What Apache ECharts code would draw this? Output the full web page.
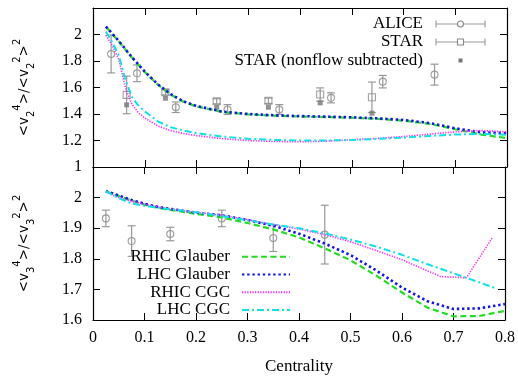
<!DOCTYPE html>
<html><head><meta charset="utf-8">
<script src="https://cdn.jsdelivr.net/npm/echarts@6/dist/echarts.min.js"></script>
<style>html,body{margin:0;padding:0;background:#fff}#c{width:518px;height:376px}</style>
</head><body><div id="c"></div>
<script>
// ---------------- data ----------------
// top panel: <v2^4>/<v2^2>^2 model curves
const v2ModelCent   = [0.025,0.0375,0.05,0.0625,0.075,0.0875,0.1,0.125,0.15,0.175,0.2,0.25,0.3,0.35,0.4,0.45,0.5,0.55,0.6,0.65,0.7,0.75,0.8];
const v2RhicGlauber = [2.058,2.002,1.947,1.887,1.827,1.772,1.717,1.622,1.547,1.492,1.457,1.415,1.397,1.387,1.381,1.377,1.372,1.363,1.350,1.326,1.285,1.245,1.218];
const v2LhcGlauber  = [2.060,2.005,1.950,1.890,1.830,1.775,1.720,1.625,1.550,1.495,1.460,1.418,1.400,1.390,1.384,1.380,1.375,1.367,1.355,1.332,1.292,1.262,1.255];
const v2RhicCgc     = [1.995,1.915,1.810,1.600,1.475,1.410,1.370,1.310,1.275,1.253,1.237,1.214,1.200,1.193,1.190,1.195,1.206,1.216,1.230,1.248,1.265,1.275,1.265];
const v2LhcCgc      = [2.020,1.940,1.840,1.660,1.530,1.465,1.420,1.345,1.300,1.275,1.255,1.230,1.213,1.204,1.200,1.200,1.203,1.212,1.222,1.234,1.245,1.250,1.243];

// top panel data points
const aliceV2Cent = [0.035,0.085,0.16,0.26,0.36,0.46,0.56,0.66];
const aliceV2Val  = [1.853,1.707,1.451,1.434,1.434,1.522,1.644,1.697];
const aliceV2Err  = [0.143,0.063,0.040,0.037,0.037,0.038,0.047,0.079];
const starV2Cent  = [0.065,0.14,0.239,0.339,0.439,0.539];
const starV2Val   = [1.544,1.564,1.496,1.500,1.547,1.526];
const starV2Err   = [0.142,0.020,0.019,0.020,0.050,0.115];
const starNonflowVal = [1.469,1.519,1.451,1.451,1.484,1.406];

// bottom panel: <v3^4>/<v3^2>^2 model curves
const v3GlauberCent = [0.025,0.05,0.075,0.1,0.125,0.15,0.2,0.25,0.3,0.35,0.4,0.45,0.5,0.55,0.6,0.65,0.7,0.75,0.8];
const v3RhicGlauber = [2.020,2.005,1.990,1.977,1.967,1.960,1.947,1.935,1.917,1.896,1.870,1.834,1.795,1.745,1.690,1.640,1.612,1.613,1.630];
const v3LhcGlauber  = [2.021,2.007,1.992,1.980,1.970,1.963,1.951,1.942,1.927,1.908,1.882,1.850,1.812,1.762,1.706,1.661,1.636,1.638,1.652];
const v3RhicCgcCent = [0.025,0.05,0.075,0.1,0.125,0.15,0.2,0.25,0.3,0.35,0.4,0.45,0.5,0.55,0.6,0.65,0.675,0.725,0.775];
const v3RhicCgc     = [2.018,2.000,1.988,1.978,1.970,1.963,1.952,1.942,1.928,1.912,1.897,1.879,1.856,1.827,1.797,1.760,1.742,1.738,1.868];
const v3LhcCgcCent  = [0.025,0.05,0.075,0.1,0.125,0.15,0.2,0.25,0.3,0.35,0.4,0.45,0.5,0.55,0.6,0.65,0.7,0.75,0.785];
const v3LhcCgc      = [2.020,1.998,1.981,1.973,1.967,1.962,1.952,1.940,1.926,1.912,1.900,1.883,1.863,1.840,1.813,1.782,1.753,1.723,1.702];

// bottom panel data points
const aliceV3Cent = [0.025,0.075,0.15,0.25,0.35,0.45];
const aliceV3Val  = [1.932,1.858,1.881,1.932,1.868,1.879];
const aliceV3Err  = [0.027,0.050,0.022,0.027,0.044,0.096];

const xTickStep = 0.1;
const seriesNames = ['RHIC Glauber','LHC Glauber','RHIC CGC','LHC CGC'];
const dataLegendNames = ['ALICE','STAR','STAR (nonflow subtracted)'];

// ---------------- styles ----------------
const SERIF = '"Liberation Serif","Times New Roman",serif';
const C_GREEN = '#22dd22', C_BLUE = '#1414e6', C_MAG = '#ff33ff', C_CYAN = '#10e0e8';
const GRAY = '#888', EBAR = '#999';
const lineStyles = {
  'RHIC Glauber': {color: C_GREEN, width: 2.2, type: [6, 3.5]},
  'LHC Glauber':  {color: C_BLUE,  width: 2.6, type: [2.4, 2.8]},
  'RHIC CGC':     {color: C_MAG,   width: 1.6, type: [1.3, 1.3]},
  'LHC CGC':      {color: C_CYAN,  width: 2.0, type: [7, 3, 2, 3]}
};

function pairs(xs, ys) { return xs.map((x, i) => [x, ys[i]]); }
function errRows(xs, ys, es) { return xs.map((x, i) => [x, ys[i], ys[i] - es[i], ys[i] + es[i]]); }

function lineSeries(name, xs, ys, axis) {
  const ls = lineStyles[name];
  return {
    type: 'line', name, xAxisIndex: axis, yAxisIndex: axis,
    data: pairs(xs, ys), showSymbol: false, symbol: 'none',
    lineStyle: {color: ls.color, width: ls.width, type: ls.type},
    itemStyle: {color: ls.color}, z: 5, animation: false, silent: true
  };
}
function errSeries(xs, ys, es, axis) {
  return {
    type: 'custom', xAxisIndex: axis, yAxisIndex: axis, silent: true, z: 3,
    data: errRows(xs, ys, es), encode: {x: 0, y: [1, 2, 3]},
    renderItem(params, api) {
      const x = api.value(0);
      const lo = api.coord([x, api.value(2)]);
      const hi = api.coord([x, api.value(3)]);
      const hw = 4;
      const st = {stroke: EBAR, lineWidth: 1.2};
      return {type: 'group', children: [
        {type: 'line', shape: {x1: lo[0], y1: lo[1], x2: hi[0], y2: hi[1]}, style: st},
        {type: 'line', shape: {x1: lo[0] - hw, y1: lo[1], x2: lo[0] + hw, y2: lo[1]}, style: st},
        {type: 'line', shape: {x1: hi[0] - hw, y1: hi[1], x2: hi[0] + hw, y2: hi[1]}, style: st}
      ]};
    }
  };
}
function markSeries(xs, ys, axis, symbol, size, filled) {
  return {
    type: 'scatter', xAxisIndex: axis, yAxisIndex: axis, data: pairs(xs, ys),
    symbol, symbolSize: size, silent: true, z: 4,
    itemStyle: filled ? {color: '#777'} : {color: 'rgba(0,0,0,0)', borderColor: GRAY, borderWidth: 1.1}
  };
}

function baseAxis(extra) {
  return Object.assign({
    type: 'value',
    axisLine: {show: true, onZero: false, lineStyle: {color: '#000', width: 1.2}},
    axisTick: {show: true, inside: true, length: 7, lineStyle: {color: '#000', width: 1}},
    splitLine: {show: false},
    axisLabel: {show: false}
  }, extra);
}
function fmt(hide) {
  return v => (Math.abs(v - hide) < 1e-6 ? '' : String(Math.round(v * 10) / 10));
}
const labelStyle = {show: true, fontFamily: SERIF, fontSize: 16, color: '#000'};
const yNameStyle = () => ({
  fontFamily: '"DejaVu Sans",sans-serif', fontSize: 13.5, color: '#000', lineHeight: 24,
  rich: {
    sub: {fontFamily: '"DejaVu Sans",sans-serif', fontSize: 10, lineHeight: 13, verticalAlign: 'bottom', color: '#000'},
    sup: {fontFamily: '"DejaVu Sans",sans-serif', fontSize: 10, lineHeight: 9, verticalAlign: 'top', color: '#000'}
  }
});

const option = {
  backgroundColor: '#fff',
  animation: false,
  grid: [
    {left: 93, right: 11, top: 8, height: 159},
    {left: 93, right: 11, top: 167, height: 159}
  ],
  xAxis: [
    baseAxis({gridIndex: 0, position: 'bottom', min: 0, max: 0.8, interval: xTickStep}),
    baseAxis({gridIndex: 0, position: 'top', min: 0, max: 0.8, interval: xTickStep}),
    baseAxis({gridIndex: 1, position: 'bottom', min: 0, max: 0.8, interval: xTickStep,
      axisLabel: Object.assign({margin: 10, formatter: v => String(Math.round(v * 10) / 10)}, labelStyle),
      name: 'Centrality', nameLocation: 'middle', nameGap: 38,
      nameTextStyle: {fontFamily: SERIF, fontSize: 17, color: '#000'}}),
    baseAxis({gridIndex: 1, position: 'top', min: 0, max: 0.8, interval: xTickStep})
  ],
  yAxis: [
    baseAxis({gridIndex: 0, position: 'left', min: 1, max: 2.2, interval: 0.2,
      axisLabel: Object.assign({margin: 11, formatter: fmt(2.2)}, labelStyle),
      name: '<v{sub|2}{sup|4}>/<v{sub|2}{sup|2}>{sup|2}', nameLocation: 'middle', nameGap: 57,
      nameTextStyle: yNameStyle()}),
    baseAxis({gridIndex: 0, position: 'right', min: 1, max: 2.2, interval: 0.2}),
    baseAxis({gridIndex: 1, position: 'left', min: 1.6, max: 2.1, interval: 0.1,
      axisLabel: Object.assign({margin: 11, formatter: fmt(2.1)}, labelStyle),
      name: '<v{sub|3}{sup|4}>/<v{sub|3}{sup|2}>{sup|2}', nameLocation: 'middle', nameGap: 57,
      nameTextStyle: yNameStyle()}),
    baseAxis({gridIndex: 1, position: 'right', min: 1.6, max: 2.1, interval: 0.1})
  ],
  legend: {
    data: seriesNames, orient: 'vertical', align: 'right',
    left: 120, top: 248, padding: 0, itemGap: 0, itemWidth: 48, itemHeight: 10,
    selectedMode: false,
    itemStyle: {color: 'rgba(0,0,0,0)', borderWidth: 0, borderColor: 'rgba(0,0,0,0)'},
    textStyle: {fontFamily: SERIF, fontSize: 17, color: '#000', width: 110, lineHeight: 17.7, padding: [0, 7, 0, 0]}
  },
  graphic: [
    {type: 'text', x: 423, y: 24, style: {text: dataLegendNames[0], align: 'right', verticalAlign: 'middle', font: '17px ' + SERIF, fill: '#000'}},
    {type: 'text', x: 423, y: 42, style: {text: dataLegendNames[1], align: 'right', verticalAlign: 'middle', font: '17px ' + SERIF, fill: '#000'}},
    {type: 'text', x: 423, y: 60.5, style: {text: dataLegendNames[2], align: 'right', verticalAlign: 'middle', font: '17px ' + SERIF, fill: '#000'}},
    // ALICE key
    {type: 'line', shape: {x1: 436, y1: 24, x2: 485, y2: 24}, style: {stroke: EBAR, lineWidth: 1.1}},
    {type: 'line', shape: {x1: 436, y1: 20.5, x2: 436, y2: 27.5}, style: {stroke: EBAR, lineWidth: 1.1}},
    {type: 'line', shape: {x1: 485, y1: 20.5, x2: 485, y2: 27.5}, style: {stroke: EBAR, lineWidth: 1.1}},
    {type: 'circle', shape: {cx: 460.5, cy: 24, r: 3}, style: {fill: '#fff', stroke: GRAY, lineWidth: 1.1}},
    // STAR key
    {type: 'line', shape: {x1: 436, y1: 42, x2: 485, y2: 42}, style: {stroke: EBAR, lineWidth: 1.1}},
    {type: 'line', shape: {x1: 436, y1: 38.5, x2: 436, y2: 45.5}, style: {stroke: EBAR, lineWidth: 1.1}},
    {type: 'line', shape: {x1: 485, y1: 38.5, x2: 485, y2: 45.5}, style: {stroke: EBAR, lineWidth: 1.1}},
    {type: 'rect', shape: {x: 457.5, y: 39, width: 6, height: 6}, style: {fill: '#fff', stroke: GRAY, lineWidth: 1.1}},
    // STAR nonflow key
    {type: 'rect', shape: {x: 458.5, y: 58.5, width: 4, height: 4}, style: {fill: '#777'}}
  ],
  series: [
    // bottom panel (legend source)
    lineSeries('RHIC Glauber', v3GlauberCent, v3RhicGlauber, 2),
    lineSeries('LHC Glauber', v3GlauberCent, v3LhcGlauber, 2),
    lineSeries('RHIC CGC', v3RhicCgcCent, v3RhicCgc, 2),
    lineSeries('LHC CGC', v3LhcCgcCent, v3LhcCgc, 2),
    errSeries(aliceV3Cent, aliceV3Val, aliceV3Err, 2),
    markSeries(aliceV3Cent, aliceV3Val, 2, 'circle', 7, false),
    // top panel
    lineSeries('RHIC Glauber', v2ModelCent, v2RhicGlauber, 0),
    lineSeries('LHC Glauber', v2ModelCent, v2LhcGlauber, 0),
    lineSeries('RHIC CGC', v2ModelCent, v2RhicCgc, 0),
    lineSeries('LHC CGC', v2ModelCent, v2LhcCgc, 0),
    errSeries(aliceV2Cent, aliceV2Val, aliceV2Err, 0),
    markSeries(aliceV2Cent, aliceV2Val, 0, 'circle', 7, false),
    errSeries(starV2Cent, starV2Val, starV2Err, 0),
    markSeries(starV2Cent, starV2Val, 0, 'rect', 7, false),
    markSeries(starV2Cent, starNonflowVal, 0, 'rect', 5, true)
  ]
};
const chart = echarts.init(document.getElementById('c'), null, {renderer: 'canvas'});
chart.setOption(option);
</script></body></html>
